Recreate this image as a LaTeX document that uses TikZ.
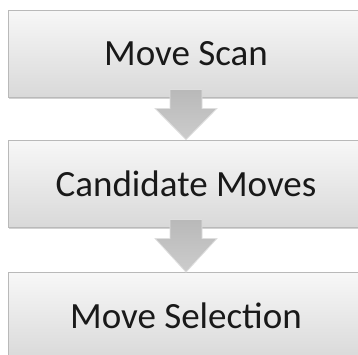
\documentclass[tikz,border=0pt]{standalone}
\usepackage{fontspec}
\setmainfont{Carlito}
\usetikzlibrary{calc,shadows}
\tikzset{
  stage/.style={draw=gray!55, line width=0.8pt, top color=gray!6, bottom color=gray!30,
    minimum width=356pt, minimum height=87pt, inner sep=0pt,
    font=\fontsize{37}{40}\selectfont, text=black!90,
    drop shadow={shadow xshift=1pt, shadow yshift=-2pt, opacity=0.35}},
  flowarrow/.style={draw=gray!25, line width=0.8pt, top color=gray!55, bottom color=gray!40}
}
\begin{document}
\begin{tikzpicture}[x=1pt,y=-1pt]
\useasboundingbox (0,0) rectangle (358,354);
\fill[white] (0,0) rectangle (358,354);
\node[stage] (scan) at (186,53.5) {Move Scan};
\node[stage] (cand) at (186,183.5) {Candidate Moves};
\node[stage] (sel)  at (186,316) {Move Selection};
\draw[flowarrow] ($(scan.south)+(-16,-8)$) -- ($(scan.south)+(16,-8)$) -- ($(scan.south)+(16,11)$)
  -- ($(scan.south)+(31,11)$) -- (cand.north) -- ($(scan.south)+(-31,11)$)
  -- ($(scan.south)+(-16,11)$) -- cycle;
\draw[flowarrow] ($(cand.south)+(-16,-8)$) -- ($(cand.south)+(16,-8)$) -- ($(cand.south)+(16,11)$)
  -- ($(cand.south)+(31,11)$) -- (sel.north) -- ($(cand.south)+(-31,11)$)
  -- ($(cand.south)+(-16,11)$) -- cycle;
\end{tikzpicture}
\end{document}
